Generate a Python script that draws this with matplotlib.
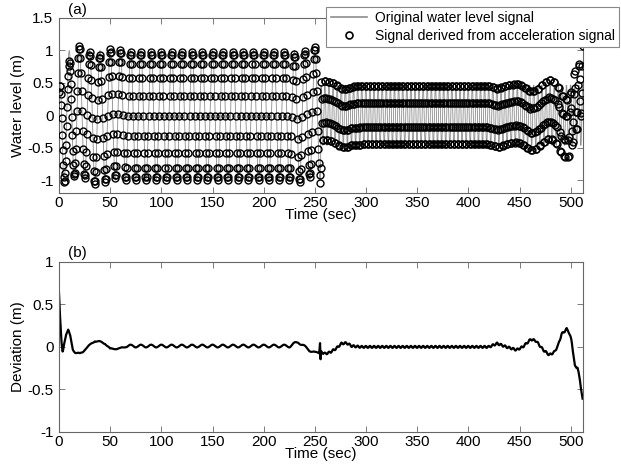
import numpy as np
import matplotlib
matplotlib.use('Agg')
import matplotlib.pyplot as plt
from matplotlib.lines import Line2D

plt.rcParams['font.family'] = ['Liberation Sans', 'DejaVu Sans']
plt.rcParams['font.size']   = 11


# sampling of the record
dt        = 0.5          # sec
n_samples = 1024
t_switch  = 256.0        # sec, wave condition changes here

# regular waves before / after the switch
period_1, amp_1, phase_1 = 10.0, 1.0, 0.0
period_2, amp_2, phase_2 = 4.0,  0.5, np.pi / 8

# deviation (original - derived), trend read at key times
dev_t = [0.0, 1.0, 2.5, 3.6, 5.0, 7.0, 9.0, 11.0, 13.3, 16.0, 18.7, 20.4,
         23.0, 25.2, 30.0, 35.0, 40.0, 45.0, 50.0, 54.7, 59.6, 64.4, 70.0,
         225.6, 233.7, 240.0, 250.0, 254.2, 255.0, 255.5, 256.0, 259.8,
         264.6, 271.0, 276.0, 281.0, 286.0, 295.0, 420.0, 428.0, 437.0,
         447.0, 453.0, 461.0, 466.0, 473.0, 479.0, 484.0, 487.5, 491.0,
         496.0, 497.6, 500.8, 504.0, 506.5, 509.0, 511.5]
dev_v = [0.62, 0.35, 0.05, -0.055, 0.05, 0.15, 0.19, 0.12, -0.02, -0.06, -0.08, -0.09,
         -0.06, -0.02, 0.01, 0.08, 0.05, 0.05, -0.035, -0.01, -0.03, 0.01, 0.01,
         0.01, 0.06, 0.0, -0.075, -0.06, 0.06, -0.13, -0.06, -0.08,
         -0.065, -0.016, 0.04, 0.045, 0.01, 0.0, 0.0, 0.04, 0.0,
         -0.035, 0.0, 0.09, 0.07, -0.035, -0.095, -0.06, 0.02, 0.15,
         0.21, 0.19, 0.07, -0.23, -0.24, -0.40, -0.62]

# small residual ripple at the wave frequency
ripple_1, ripple_2 = 0.016, 0.012


t     = np.arange(n_samples) * dt
first = t < t_switch

original = np.where(first,
                    amp_1 * np.cos(2 * np.pi * t / period_1 + phase_1),
                    amp_2 * np.cos(2 * np.pi * (t - t_switch) / period_2 + phase_2))
unit_wave = original / np.where(first, amp_1, amp_2)
deviation = np.interp(t, dev_t, dev_v) + np.where(first, ripple_1, ripple_2) * unit_wave
derived   = original - deviation


fig = plt.figure(figsize=(6.21, 4.71), dpi=100)
fig.patch.set_facecolor('white')

ax1 = fig.add_axes([0.095, 0.590, 0.844, 0.372])
ax2 = fig.add_axes([0.095, 0.083, 0.844, 0.361])

ax1.plot(t, original, color='#8c8c8c', linewidth=0.6, zorder=2)
ax1.plot(t, derived, linestyle='none', marker='o', markersize=5,
         markerfacecolor='none', markeredgecolor='black', markeredgewidth=1.0, zorder=3)

ax2.plot(t, deviation, color='black', linewidth=1.6)

for ax in (ax1, ax2):
    ax.set_xlim(0, 512)
    ax.set_xticks(np.arange(0, 501, 50))
    ax.tick_params(direction='in', top=True, right=True, length=4,
                   width=0.6, color='#666', labelsize=11)
    ax.tick_params(axis='x', pad=2)
    ax.tick_params(axis='y', pad=4)
    for sp in ax.spines.values():
        sp.set_color('#666')
        sp.set_linewidth(0.8)
    ax.set_xlabel('Time (sec)', labelpad=-1)

ax1.set_ylim(-1.2, 1.5)
ax1.set_yticks([-1, -0.5, 0, 0.5, 1, 1.5])
ax1.set_yticklabels(['-1', '-0.5', '0', '0.5', '1', '1.5'])
ax1.set_ylabel('Water level (m)', labelpad=2)

ax2.set_ylim(-1, 1)
ax2.set_yticks([-1, -0.5, 0, 0.5, 1])
ax2.set_yticklabels(['-1', '-0.5', '0', '0.5', '1'])
ax2.set_ylabel('Deviation (m)', labelpad=2)

fig.text(68 / 621, 1 - 10 / 471, '(a)', ha='left', va='center', fontsize=11)
fig.text(68 / 621, 1 - 253 / 471, '(b)', ha='left', va='center', fontsize=11)

handles = [
    Line2D([], [], color='#8c8c8c', linewidth=1.2, label='Original water level signal'),
    Line2D([], [], linestyle='none', marker='o', markersize=5, markerfacecolor='none',
           markeredgecolor='black', markeredgewidth=1.2,
           label='Signal derived from acceleration signal'),
]
leg = ax1.legend(handles=handles, loc='upper right', bbox_to_anchor=(0.997, 0.985),
                 bbox_transform=fig.transFigure, fontsize=10, frameon=True,
                 fancybox=False, framealpha=1, edgecolor='#888', handlelength=2.6,
                 borderpad=0.3, labelspacing=0.25, handletextpad=0.6, borderaxespad=0)
leg.get_frame().set_linewidth(0.8)
leg.set_zorder(10)

plt.savefig('out.png', dpi=100)
